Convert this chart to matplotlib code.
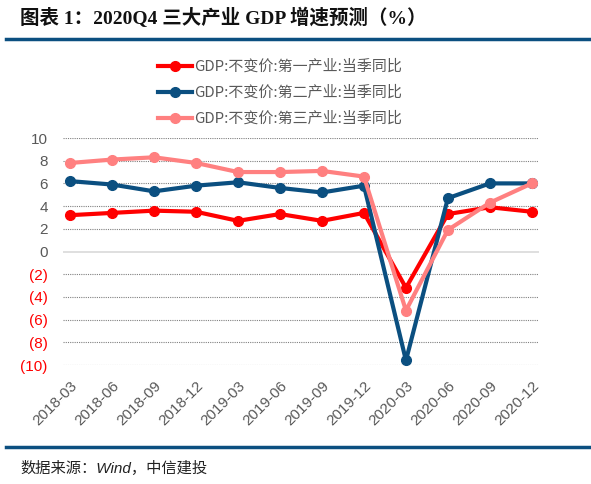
import matplotlib
matplotlib.use("Agg")
import matplotlib.pyplot as plt
from matplotlib.lines import Line2D

plt.rcParams['font.family'] = ['Noto Sans CJK SC', 'DejaVu Sans']

quarters = ["2018-03", "2018-06", "2018-09", "2018-12", "2019-03", "2019-06",
            "2019-09", "2019-12", "2020-03", "2020-06", "2020-09", "2020-12"]
primary = [3.2, 3.4, 3.6, 3.5, 2.7, 3.3, 2.7, 3.4, -3.2, 3.3, 3.9, 3.5]
secondary = [6.2, 5.9, 5.3, 5.8, 6.1, 5.6, 5.2, 5.8, -9.6, 4.7, 6.0, 6.0]
tertiary = [7.8, 8.1, 8.3, 7.8, 7.0, 7.0, 7.1, 6.6, -5.2, 1.9, 4.3, 6.0]
series_names = ["GDP:不变价:第一产业:当季同比", "GDP:不变价:第二产业:当季同比",
                "GDP:不变价:第三产业:当季同比"]
colors = ["#FF0000", "#0B4F80", "#FF8080"]
yticks = [10, 8, 6, 4, 2, 0, -2, -4, -6, -8, -10]

W, H = 591, 484
fig = plt.figure(figsize=(W / 100, H / 100), dpi=100)

# title and rules
fig.text(20 / W, 1 - 18 / H, "图表 1：2020Q4 三大产业 GDP 增速预测（%）",
         fontsize=14, fontweight='bold', va='center', ha='left', color='#111111',
         family=['Liberation Serif', 'Noto Sans CJK SC'])
fig.add_artist(Line2D([6 / W, 1], [1 - 38.5 / H] * 2, color='#0B4F80', lw=2.5))
fig.add_artist(Line2D([6 / W, 1], [1 - 447 / H] * 2, color='#0B4F80', lw=2.5))
fig.text(20 / W, 1 - 468 / H, "数据来源：Wind，中信建投", fontsize=11, style='italic',
         va='center', ha='left', color='#222222',
         family=['Liberation Sans', 'Noto Sans CJK SC'])

ax = fig.add_axes([63 / W, 1 - 365 / H, (539 - 63) / W, (365 - 138) / H])
x = list(range(len(quarters)))
for vals, c in zip([primary, secondary, tertiary], colors):
    ax.plot(x, vals, color=c, lw=3, marker='o', ms=7, clip_on=False, zorder=3)

ax.set_xlim(-0.17, 11.17)
ax.set_ylim(-10, 10)
ax.set_yticks(yticks)
for y in yticks:
    if y == 0:
        ax.axhline(0, color='#D9D9D9', lw=1.2, zorder=1)
    else:
        ax.axhline(y, color='#808080', lw=0.8, ls=(0, (1, 1)), zorder=1)
ylabels = [str(v) if v >= 0 else f"({-v})" for v in yticks]
ax.set_yticklabels(ylabels, fontsize=11, family=['Liberation Sans'])
for lab, v in zip(ax.get_yticklabels(), yticks):
    lab.set_color('#FF0000' if v < 0 else '#595959')
ax.set_xticks(x)
ax.set_xticklabels(quarters, rotation=45, ha='right', rotation_mode='anchor',
                   fontsize=11, color='#595959', family=['Liberation Sans'])
ax.tick_params(axis='y', length=0, pad=11)
ax.tick_params(axis='x', length=0, pad=10)
for s in ax.spines.values():
    s.set_visible(False)
ax.patch.set_alpha(0)

# legend
for i, (name, c) in enumerate(zip(series_names, colors)):
    yy = 1 - (66 + i * 26) / H
    fig.add_artist(Line2D([158 / W, 192 / W], [yy, yy], color=c, lw=3))
    fig.add_artist(Line2D([175 / W], [yy], color=c, marker='o', ms=7, lw=0))
    fig.text(194 / W, yy, name, fontsize=10.8, color='#595959', va='center', ha='left')

fig.savefig("out.png", dpi=100)
